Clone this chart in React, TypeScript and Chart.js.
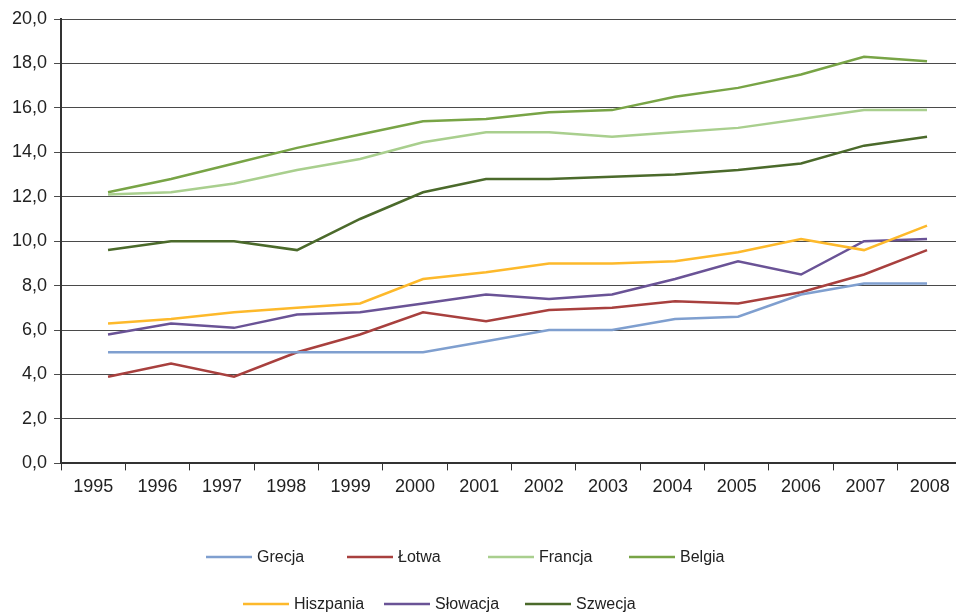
import { useEffect, useRef } from 'react';
import { Chart, registerables } from 'chart.js';

Chart.register(...registerables);

// Years shown on the category axis
const YEARS = [1995, 1996, 1997, 1998, 1999, 2000, 2001, 2002, 2003, 2004, 2005, 2006, 2007, 2008];

// Series values per year
const GRECJA = [5.0, 5.0, 5.0, 5.0, 5.0, 5.0, 5.5, 6.0, 6.0, 6.5, 6.6, 7.6, 8.1, 8.1];
const LOTWA = [3.9, 4.5, 3.9, 5.0, 5.8, 6.8, 6.4, 6.9, 7.0, 7.3, 7.2, 7.7, 8.5, 9.6];
const FRANCJA = [12.1, 12.2, 12.6, 13.2, 13.7, 14.45, 14.9, 14.9, 14.7, 14.9, 15.1, 15.5, 15.9, 15.9];
const BELGIA = [12.2, 12.8, 13.5, 14.2, 14.8, 15.4, 15.5, 15.8, 15.9, 16.5, 16.9, 17.5, 18.3, 18.1];
const HISZPANIA = [6.3, 6.5, 6.8, 7.0, 7.2, 8.3, 8.6, 9.0, 9.0, 9.1, 9.5, 10.1, 9.6, 10.7];
const SLOWACJA = [5.8, 6.3, 6.1, 6.7, 6.8, 7.2, 7.6, 7.4, 7.6, 8.3, 9.1, 8.5, 10.0, 10.1];
const SZWECJA = [9.6, 10.0, 10.0, 9.6, 11.0, 12.2, 12.8, 12.8, 12.9, 13.0, 13.2, 13.5, 14.3, 14.7];

const SERIES_NAMES = ['Grecja', 'Łotwa', 'Francja', 'Belgia', 'Hiszpania', 'Słowacja', 'Szwecja'];
const SERIES_VALUES = [GRECJA, LOTWA, FRANCJA, BELGIA, HISZPANIA, SLOWACJA, SZWECJA];
const SERIES_COLORS = ['#7f9fcf', '#a8403e', '#a9cf8e', '#78a446', '#fdb92b', '#6a5396', '#4b6a2b'];

// Y axis ticks
const Y_MIN = 0;
const Y_MAX = 20;
const Y_STEP = 2;

const FONT = "'Liberation Sans', Arial, sans-serif";
const TEXT_COLOR = '#222222';

// Range of the hidden linear axis that positions the data points
const DATA_X_MIN = 1994.254;
const DATA_X_MAX = 2008.555;

// Legend layout: two rows of items placed in columns
const LEGEND_ROWS = [
  { items: [0, 1, 2, 3], x0: 206, dy: 57 },
  { items: [4, 5, 6], x0: 243, dy: 10 },
];
const LEGEND_COL = 141;
const LEGEND_LINE = 46;

const rowLegend = {
  id: 'rowLegend',
  afterDraw(chart: any) {
    const ctx = chart.ctx;
    ctx.save();
    ctx.font = `16px ${FONT}`;
    ctx.textBaseline = 'middle';
    ctx.textAlign = 'left';
    LEGEND_ROWS.forEach((row) => {
      const y = chart.height - row.dy;
      row.items.forEach((idx, col) => {
        const ds = chart.data.datasets[idx];
        const x = row.x0 + col * LEGEND_COL;
        ctx.strokeStyle = ds.borderColor;
        ctx.lineWidth = 2.5;
        ctx.beginPath();
        ctx.moveTo(x, y);
        ctx.lineTo(x + LEGEND_LINE, y);
        ctx.stroke();
        ctx.fillStyle = TEXT_COLOR;
        ctx.fillText(ds.label, x + LEGEND_LINE + 5, y + 1);
      });
    });
    ctx.restore();
  },
};

export default function App() {
  const canvasRef = useRef<HTMLCanvasElement | null>(null);

  useEffect(() => {
    if (!canvasRef.current) return;
    const chart = new Chart(canvasRef.current, {
      type: 'line',
      data: {
        datasets: SERIES_NAMES.map((name, i) => ({
          label: name,
          data: SERIES_VALUES[i].map((v, j) => ({ x: YEARS[j], y: v })),
          borderColor: SERIES_COLORS[i],
          backgroundColor: SERIES_COLORS[i],
          borderWidth: 2.5,
          pointRadius: 0,
          tension: 0,
          fill: false,
          xAxisID: 'xd',
        })),
      },
      options: {
        animation: false,
        responsive: false,
        maintainAspectRatio: false,
        devicePixelRatio: 1,
        layout: { padding: { left: 5, right: 0, top: 19, bottom: 110 } },
        plugins: {
          legend: { display: false },
          tooltip: { enabled: false },
        },
        scales: {
          x: {
            type: 'category',
            labels: YEARS.map(String),
            offset: true,
            grid: {
              offset: true,
              drawOnChartArea: false,
              drawTicks: true,
              tickLength: 7,
              color: '#333333',
              lineWidth: 1,
            },
            border: { display: true, color: '#333333', width: 2 },
            ticks: {
              color: TEXT_COLOR,
              font: { family: FONT, size: 18 },
              padding: 6,
              maxRotation: 0,
              autoSkip: false,
            },
          },
          xd: {
            type: 'linear',
            display: false,
            min: DATA_X_MIN,
            max: DATA_X_MAX,
          },
          y: {
            type: 'linear',
            min: Y_MIN,
            max: Y_MAX,
            grid: {
              color: '#4a4a4a',
              lineWidth: 1,
              drawTicks: true,
              tickLength: 7,
            },
            border: { display: true, color: '#333333', width: 2 },
            ticks: {
              stepSize: Y_STEP,
              color: TEXT_COLOR,
              font: { family: FONT, size: 18 },
              padding: 7,
              callback: (v: any) => Number(v).toFixed(1).replace('.', ','),
            },
          },
        },
      },
      plugins: [rowLegend],
    });
    return () => chart.destroy();
  }, []);

  return (
    <div
      style={{
        position: 'fixed',
        left: 0,
        top: 0,
        width: 956,
        height: 614,
        overflow: 'hidden',
        background: '#ffffff',
      }}
    >
      <canvas ref={canvasRef} width={962} height={614} style={{ display: 'block' }} />
    </div>
  );
}
